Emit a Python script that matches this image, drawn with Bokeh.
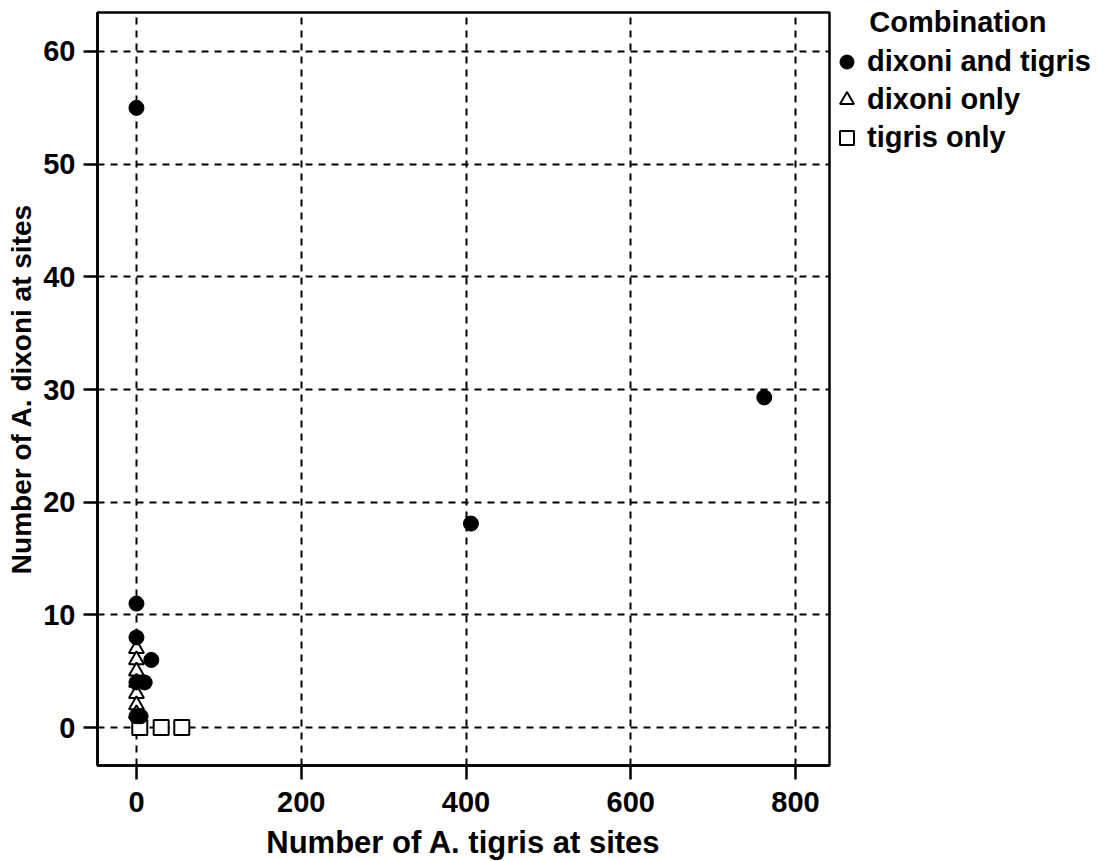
from bokeh.plotting import figure
from bokeh.models import Range1d, Legend, LegendItem, FixedTicker
from bokeh.embed import file_html
from bokeh.resources import INLINE

# Data
both_x = [0, 762, 406, 0, 0, 18, 10, 0, 5, 0]
both_y = [55, 29.3, 18.1, 11, 8, 6, 4, 4, 1, 1]
dix_x = [0, 0, 0, 0, 0, 0, 0]
dix_y = [7, 6, 5, 4, 3, 2, 1.2]
tig_x = [4, 30, 55]
tig_y = [0, 0, 0]

x_ticks = [0, 200, 400, 600, 800]
y_ticks = [0, 10, 20, 30, 40, 50, 60]
legend_title = "Combination"
labels = ["dixoni and tigris", "dixoni only", "tigris only"]

FONT = "Liberation Sans"

p = figure(frame_width=732, frame_height=753, output_backend="svg", toolbar_location=None,
           x_range=Range1d(-47.3, 841.2), y_range=Range1d(-3.37, 63.46),
           min_border_left=97, min_border_right=270, min_border_top=12, min_border_bottom=92)

p.outline_line_color = "black"
p.outline_line_width = 2.5
p.outline_line_alpha = 1.0

for ax in (p.xaxis[0], p.yaxis[0]):
    ax.major_label_text_font = FONT
    ax.major_label_text_font_style = "bold"
    ax.major_label_text_font_size = "29px"
    ax.major_label_text_color = "black"
    ax.axis_label_text_font = FONT
    ax.axis_label_text_font_style = "bold"
    ax.axis_label_text_color = "black"
    ax.axis_line_width = 2.5
    ax.axis_line_color = "black"
    ax.major_tick_line_width = 2.5
    ax.major_tick_out = 14
    ax.major_tick_in = 0
    ax.minor_tick_line_color = None

p.xaxis.ticker = FixedTicker(ticks=x_ticks)
p.yaxis.ticker = FixedTicker(ticks=y_ticks)
p.xaxis.axis_label = "Number of A. tigris at sites"
p.yaxis.axis_label = "Number of A. dixoni at sites"
p.xaxis.axis_label_text_font_size = "31px"
p.yaxis.axis_label_text_font_size = "28px"
p.xaxis.major_label_standoff = 12
p.yaxis.major_label_standoff = 8
p.xaxis.axis_label_standoff = 10
p.yaxis.axis_label_standoff = 3

for g in (p.xgrid[0], p.ygrid[0]):
    g.grid_line_color = "black"
    g.grid_line_dash = "7 6"
    g.grid_line_width = 2

r_tig = p.scatter(tig_x, tig_y, marker="square", size=15, fill_color="white",
                  line_color="black", line_width=2)
r_dix = p.scatter(dix_x, dix_y, marker="triangle", size=15, fill_color="white",
                  line_color="black", line_width=2)
r_both = p.scatter(both_x, both_y, marker="circle", size=15, fill_color="black",
                   line_color="black")

legend = Legend(items=[LegendItem(label=labels[0], renderers=[r_both]),
                       LegendItem(label=labels[1], renderers=[r_dix]),
                       LegendItem(label=labels[2], renderers=[r_tig])],
                location=(0, 610),
                title="\u00a0\u00a0\u00a0\u00a0\u00a0" + legend_title)
legend.title_text_font = FONT
legend.title_text_font_style = "bold"
legend.title_text_font_size = "29px"
legend.title_text_color = "black"
legend.title_standoff = 5
legend.label_text_font = FONT
legend.label_text_font_style = "bold"
legend.label_text_font_size = "29px"
legend.label_text_color = "black"
legend.border_line_color = None
legend.background_fill_alpha = 0
legend.glyph_width = 35
legend.glyph_height = 35
legend.label_height = 35
legend.label_standoff = 3
legend.spacing = 3
legend.padding = 0
legend.margin = 0
p.add_layout(legend, "right")

open("out.html", "w").write(file_html(p, INLINE))
